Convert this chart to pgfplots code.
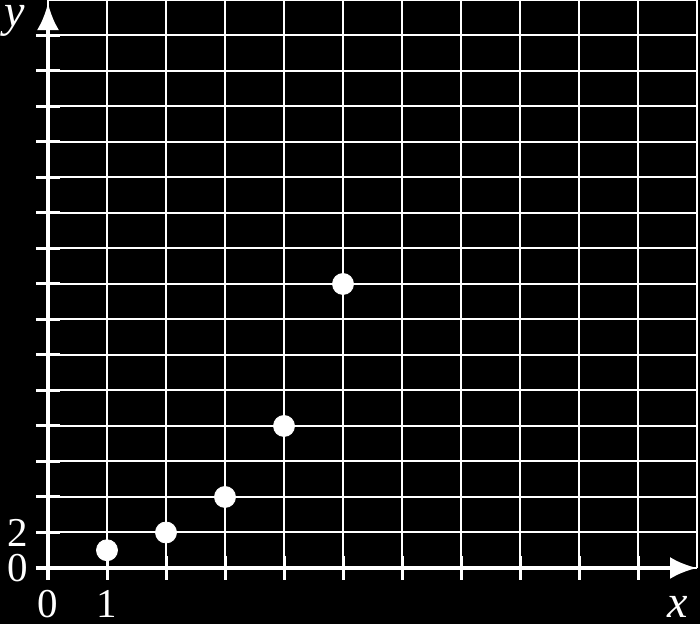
\documentclass[border=0pt]{standalone}
\usepackage{fontspec}
\setmainfont{Liberation Serif}
\usepackage{pgfplots}
\pgfplotsset{compat=1.18}
\usetikzlibrary{arrows.meta}
\begin{document}
\begin{tikzpicture}
\path[use as bounding box, fill=black] (-24pt,-28pt) rectangle (326pt,284pt);
\begin{axis}[
  at={(0pt,0pt)}, anchor=origin,
  scale only axis, width=324.5pt, height=284pt,
  xmin=0, xmax=11, ymin=0, ymax=32,
  clip=false,
  axis line style={draw=none},
  xtick={0,1,...,10}, ytick={0,2,...,30},
  xticklabels={\textrm{0},\textrm{1}},
  yticklabels={\textrm{0},\textrm{2}},
  extra x ticks={11}, extra y ticks={32},
  extra x tick labels={}, extra y tick labels={},
  extra tick style={major tick length=0pt, grid=major},
  tick pos=left,
  tick align=center,
  major tick length=12pt,
  tick style={white, line width=1.5pt},
  grid=major,
  major grid style={white, line width=1pt},
  ticklabel style={font=\fontsize{20.5}{21}\selectfont, text=white, inner sep=0pt},
  xticklabel style={anchor=base, yshift=-19pt},
  yticklabel style={anchor=east, xshift=-4pt},
  xlabel={\textit{x}}, ylabel={\textit{y}},
  label style={font=\fontsize{23}{24}\selectfont, text=white, inner sep=0pt},
  xlabel style={at={(axis description cs:0.9707,0)}, anchor=base, yshift=-25pt},
  ylabel style={rotate=-90, at={(axis description cs:0,0.9525)}, anchor=base, xshift=-16.5pt},
]
\addplot[only marks, mark=*, mark size=5.25pt, white, mark options={fill=white, draw=white}]
  coordinates {(1,1) (2,2) (3,4) (4,8) (5,16)};
\draw[white, line width=2pt, -{Latex[length=13.5pt,width=11pt]}] (axis cs:0,0) ++(-6pt,0) -- (axis cs:11,0);
\draw[white, line width=2pt, -{Latex[length=13.5pt,width=11pt]}] (axis cs:0,0) ++(0,-6pt) -- (axis cs:0,31.83);
\end{axis}
\end{tikzpicture}
\end{document}
